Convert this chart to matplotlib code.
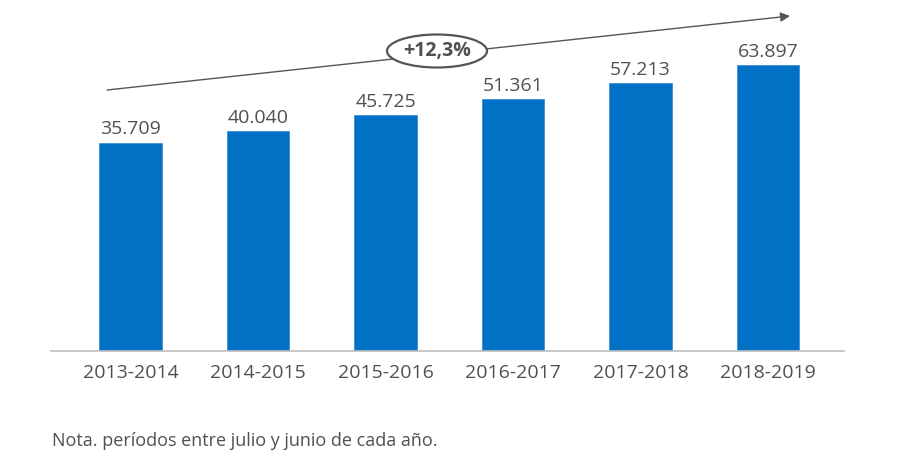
import matplotlib
matplotlib.use("Agg")
import matplotlib.pyplot as plt
from matplotlib.patches import Ellipse

# periods (July-June) and values
periods = ["2013-2014", "2014-2015", "2015-2016", "2016-2017", "2017-2018", "2018-2019"]
values = [35709, 40040, 45725, 51361, 57213, 63897]
growth_label = "+12,3%"
note = "Nota. períodos entre julio y junio de cada año."

BAR_COLOR = "#0071c5"
TEXT_COLOR = "#505050"
BASE = -39640  # the original chart is not drawn from zero

plt.rcParams["font.family"] = ["Open Sans", "DejaVu Sans"]

W, H = 904, 462
fig = plt.figure(figsize=(W / 100, H / 100), dpi=100)
ax = fig.add_axes([51 / W, (H - 351) / H, (844 - 51) / W, 351 / H])

x = list(range(len(periods)))
heights = [v - BASE for v in values]
ax.bar(x, heights, bottom=BASE, width=0.49, color=BAR_COLOR,
       edgecolor="#3d8fd6", linewidth=0.6)

for xi, v in zip(x, values):
    ax.annotate(f"{v:,}".replace(",", "."), (xi, v), xytext=(0, 3),
                textcoords="offset points", ha="center", va="bottom",
                fontsize=14, color=TEXT_COLOR)

ax.set_xlim(-0.624, 5.596)
ax.set_ylim(BASE, 87300)
ax.set_xticks(x)
ax.set_xticklabels(periods, fontsize=14, color=TEXT_COLOR)
ax.tick_params(axis="x", length=0, pad=9)
ax.set_yticks([])
for side in ["top", "right", "left"]:
    ax.spines[side].set_visible(False)
ax.spines["bottom"].set_color("#bdbdbd")
ax.spines["bottom"].set_linewidth(1.2)

# growth arrow with the ellipse label
def fpos(px, py):
    return (px / W, 1 - py / H)

ax.annotate("", xy=fpos(790, 16), xytext=fpos(107, 90),
            xycoords="figure fraction", textcoords="figure fraction",
            arrowprops=dict(arrowstyle="-|>", color="#555555", lw=1,
                            mutation_scale=14, shrinkA=0, shrinkB=0))
ell = Ellipse(fpos(437, 51), 100 / W, 33 / H, transform=fig.transFigure,
              facecolor="white", edgecolor="#555555", linewidth=1.6, zorder=5)
fig.patches.append(ell)
fig.text(*fpos(437, 51), growth_label, ha="center", va="center",
         fontsize=14, fontweight="bold", color=TEXT_COLOR, zorder=6)

fig.text(52 / W, 1 - 441 / H, note, ha="left", va="center",
         fontsize=13, color=TEXT_COLOR)

fig.savefig("out.png", dpi=100)
